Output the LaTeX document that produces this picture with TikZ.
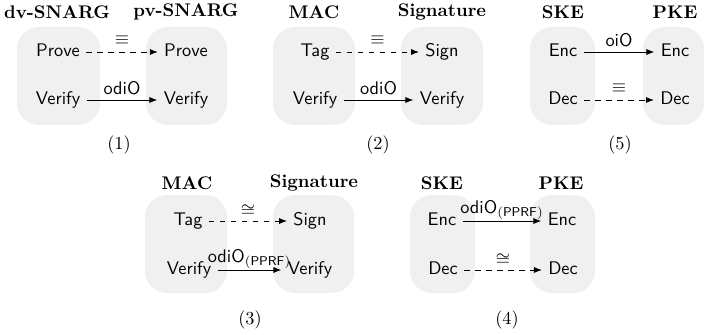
\documentclass[tikz,border=0pt]{standalone}
\usetikzlibrary{arrows.meta}
\begin{document}
\begin{tikzpicture}[x=0.5464pt,y=-0.5464pt,
  grp/.style={fill=gray!12,rounded corners=12pt},
  ttl/.style={font=\bfseries,inner sep=0pt},
  alg/.style={font=\sffamily,text height=7pt,text depth=2pt,inner sep=3.3pt},
  captxt/.style={inner sep=0pt},
  arr/.style={-{Latex[length=4.3pt,width=3.3pt]},line width=0.45pt},
  eqv/.style={arr,dashed},
  lbl/.style={above,font=\sffamily,inner sep=2.5pt},
  sym/.style={above,inner sep=4pt},
  isosym/.style={above,inner sep=2pt}]
\useasboundingbox (0,0) rectangle (704,335);

% ---------- (1) designated-verifier vs publicly verifiable SNARG
\path[grp] (17,27) rectangle (100,125);
\path[grp] (146,27) rectangle (227,125);
\node[ttl] (t1a) at (57,12) {dv-SNARG};
\node[ttl] (t1b) at (186,12) {pv-SNARG};
\node[alg] (p1a) at (58,52) {Prove};
\node[alg] (v1a) at (58,100) {Verify};
\node[alg] (p1b) at (186,52) {Prove};
\node[alg] (v1b) at (186,100) {Verify};
\draw[eqv] (p1a) -- node[sym] {$\equiv$} (p1b);
\draw[arr] (v1a) -- node[lbl] {odiO} (v1b);
\node[captxt] (c1) at (119,145) {(1)};

% ---------- (2) MAC to signature
\path[grp] (273,27) rectangle (355,125);
\path[grp] (401,27) rectangle (483,125);
\node[ttl] (t2a) at (314,12) {MAC};
\node[ttl] (t2b) at (442,12) {Signature};
\node[alg] (g2a) at (315,52) {Tag};
\node[alg] (v2a) at (315,100) {Verify};
\node[alg] (s2b) at (442,52) {Sign};
\node[alg] (v2b) at (442,100) {Verify};
\draw[eqv] (g2a) -- node[sym] {$\equiv$} (s2b);
\draw[arr] (v2a) -- node[lbl] {odiO} (v2b);
\node[captxt] (c2) at (378,145) {(2)};

% ---------- (5) secret-key to public-key encryption
\path[grp] (530,27) rectangle (595,125);
\path[grp] (643,27) rectangle (704,125);
\node[ttl] (t5a) at (563,12) {SKE};
\node[ttl] (t5b) at (675,12) {PKE};
\node[alg] (e5a) at (563,52) {Enc};
\node[alg] (d5a) at (563,100) {Dec};
\node[alg] (e5b) at (675,52) {Enc};
\node[alg] (d5b) at (675,100) {Dec};
\draw[arr] (e5a) -- node[lbl] {oiO} (e5b);
\draw[eqv] (d5a) -- node[sym] {$\equiv$} (d5b);
\node[captxt] (c5) at (620,145) {(5)};

% ---------- (3) MAC to signature via PPRF
\path[grp] (145,195) rectangle (227,293);
\path[grp] (273,195) rectangle (354,293);
\node[ttl] (t3a) at (187,183) {MAC};
\node[ttl] (t3b) at (314,183) {Signature};
\node[alg] (g3a) at (188,221) {Tag};
\node[alg] (v3a) at (189,270) {Verify};
\node[alg] (s3b) at (310,221) {Sign};
\node[alg] (v3b) at (310,270) {Verify};
\draw[eqv] (g3a) -- node[isosym] {$\cong$} (s3b);
\draw[arr] (v3a) -- node[lbl,inner sep=0.5pt] {odiO$_{\mathsf{(PPRF)}}$} (v3b);
\node[captxt] (c3) at (250,320) {(3)};

% ---------- (4) SKE to PKE via PPRF
\path[grp] (410,195) rectangle (475,293);
\path[grp] (530,195) rectangle (595,293);
\node[ttl] (t4a) at (442,183) {SKE};
\node[ttl] (t4b) at (561,183) {PKE};
\node[alg] (e4a) at (442,221) {Enc};
\node[alg] (d4a) at (443,270) {Dec};
\node[alg] (e4b) at (562,221) {Enc};
\node[alg] (d4b) at (563,270) {Dec};
\draw[arr] (e4a) -- node[lbl,inner sep=0.5pt] {odiO$_{\mathsf{(PPRF)}}$} (e4b);
\draw[eqv] (d4a) -- node[isosym] {$\cong$} (d4b);
\node[captxt] (c4) at (507,320) {(4)};
\end{tikzpicture}
\end{document}
